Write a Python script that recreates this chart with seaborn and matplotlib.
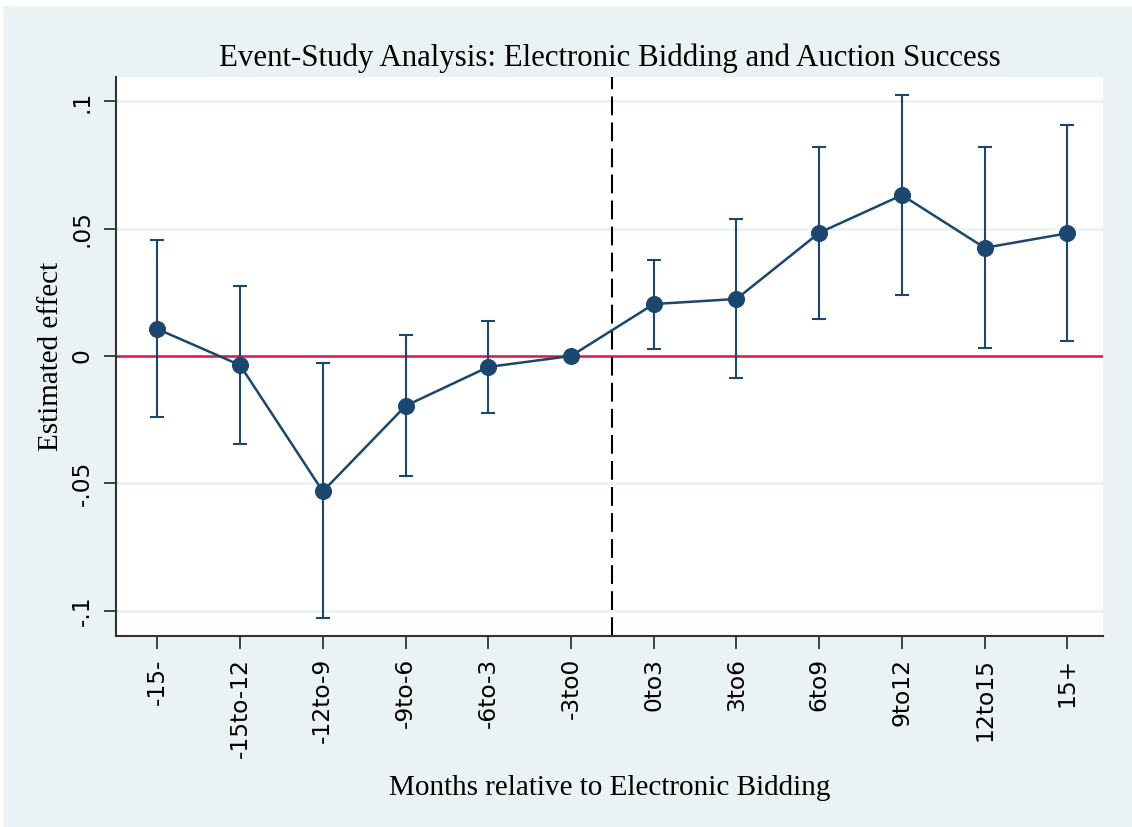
import matplotlib
matplotlib.use("Agg")
import matplotlib.pyplot as plt
from matplotlib import patches
import seaborn as sns
import numpy as np
import pandas as pd

# periodos relativos a la licitacion electronica
periodos = ['-15-', '-15to-12', '-12to-9', '-9to-6', '-6to-3', '-3to0',
            '0to3', '3to6', '6to9', '9to12', '12to15', '15+']
# coeficientes estimados
coef = [0.0106, -0.0036, -0.0532, -0.0196, -0.0043, 0.0,
        0.0204, 0.0224, 0.0484, 0.0632, 0.0425, 0.0482]
# intervalos de confianza (el periodo base no tiene)
ic_sup = [0.0456, 0.0273, -0.0029, 0.0084, 0.0139, np.nan,
          0.0377, 0.0539, 0.0822, 0.1026, 0.0821, 0.0906]
ic_inf = [-0.0239, -0.0344, -0.1030, -0.0472, -0.0222, np.nan,
          0.0027, -0.0088, 0.0145, 0.0240, 0.0033, 0.0058]
yticks = [-0.1, -0.05, 0, 0.05, 0.1]
ytick_labels = ['-.1', '-.05', '0', '.05', '.1']

df = pd.DataFrame({'periodo': periodos, 'coef': coef, 'sup': ic_sup, 'inf': ic_inf})
df['pos'] = np.arange(len(df))

fondo = '#eaf2f3'
azul = '#1a476f'

sns.set_style('white')
fig = plt.figure(figsize=(11.32, 8.27), dpi=100, facecolor='white')
# fondo gris-azulado estilo Stata con un borde blanco arriba/izquierda
fig.patches.append(patches.Rectangle((3 / 1132, 0), 1, 1 - 6 / 827,
                                     transform=fig.transFigure,
                                     facecolor=fondo, edgecolor='none', zorder=-10))
ax = fig.add_axes([116 / 1132, 1 - 636 / 827, (1103 - 116) / 1132, (636 - 77) / 827])
ax.set_facecolor('white')

# lineas de referencia
for yt in yticks:
    ax.axhline(yt, color=fondo, lw=2, zorder=0)
ax.axhline(0, color='#d11c4c', lw=1.8, zorder=1)
ax.axvline(5.5, color='black', lw=1.5, dashes=(9, 3.5), zorder=1)

# intervalos de confianza
ci = df.dropna()
ax.errorbar(ci['pos'], ci['coef'],
            yerr=[ci['coef'] - ci['inf'], ci['sup'] - ci['coef']],
            fmt='none', ecolor=azul, elinewidth=1.5, capsize=5, capthick=1.5, zorder=2)

# coeficientes
sns.lineplot(data=df, x='pos', y='coef', ax=ax, color=azul, lw=1.8,
             marker='o', markersize=11.5, markeredgecolor=azul, zorder=3)

ax.set_xlim(-0.5, 11.43)
ax.set_ylim(-0.11, 0.1096)
ax.set_xticks(df['pos'])
ax.set_xticklabels(periodos, rotation=90, va='top', ha='center',
                   family='DejaVu Sans', fontsize=16.8, color='black')
ax.set_yticks(yticks)
ax.set_yticklabels(ytick_labels, rotation=90, va='center', ha='right',
                   family='DejaVu Sans', fontsize=16.8, color='black')
ax.tick_params(axis='both', direction='out', length=9, width=1.3,
               color='#333333', pad=7, left=True, bottom=True)

for s in ['top', 'right']:
    ax.spines[s].set_visible(False)
for s in ['left', 'bottom']:
    ax.spines[s].set_color('#333333')
    ax.spines[s].set_linewidth(1.5)

ax.set_title('Event-Study Analysis: Electronic Bidding and Auction Success',
             family='Liberation Serif', fontsize=22.2, pad=8, color='black')
ax.set_xlabel('Months relative to Electronic Bidding',
              family='Liberation Serif', fontsize=21, labelpad=12, color='black')
ax.set_ylabel('Estimated effect', family='Liberation Serif', fontsize=21,
              labelpad=5, color='black')

fig.savefig('out.png', dpi=100, facecolor=fig.get_facecolor())
